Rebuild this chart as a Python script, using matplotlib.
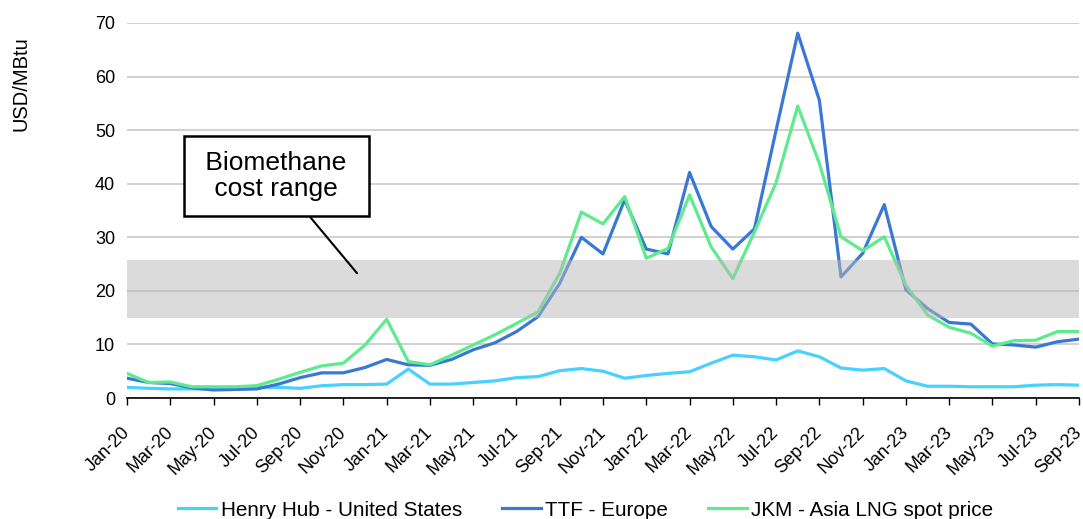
import matplotlib
matplotlib.use("Agg")
import matplotlib.pyplot as plt
import matplotlib.transforms as mtransforms
import numpy as np

plt.rcParams["font.family"] = ["Liberation Sans", "DejaVu Sans"]

months = ["Jan", "Feb", "Mar", "Apr", "May", "Jun", "Jul", "Aug", "Sep", "Oct", "Nov", "Dec"]
dates = [f"{m}-{y}" for y in ("20", "21", "22", "23") for m in months][:45]

henry_hub = [2.0, 1.8, 1.7, 1.7, 1.7, 1.7, 2.0, 2.0, 1.8, 2.3, 2.5, 2.5,
             2.6, 5.4, 2.6, 2.6, 2.9, 3.2, 3.8, 4.0, 5.1, 5.5, 5.0, 3.7,
             4.2, 4.6, 4.9, 6.5, 8.0, 7.7, 7.1, 8.8, 7.7, 5.6, 5.2, 5.5,
             3.2, 2.2, 2.2, 2.1, 2.1, 2.1, 2.4, 2.5, 2.4]
ttf = [3.7, 2.9, 2.7, 1.9, 1.5, 1.6, 1.7, 2.6, 3.8, 4.7, 4.7, 5.7,
       7.2, 6.2, 6.1, 7.2, 9.0, 10.3, 12.4, 15.2, 21.4, 30.0, 26.9, 37.0,
       27.8, 26.9, 42.1, 32.0, 27.8, 31.6, 50.0, 68.1, 55.6, 22.6, 27.0, 36.1,
       20.2, 16.7, 14.1, 13.8, 10.1, 9.9, 9.5, 10.5, 11.0]
jkm = [4.6, 2.9, 3.0, 2.1, 2.1, 2.1, 2.3, 3.5, 4.8, 6.0, 6.5, 9.9,
       14.7, 6.8, 6.2, 8.0, 9.9, 11.8, 13.9, 16.1, 23.3, 34.7, 32.5, 37.6,
       26.1, 27.9, 37.9, 28.2, 22.3, 31.0, 40.2, 54.5, 43.8, 30.1, 27.5, 30.1,
       21.1, 15.5, 13.2, 12.1, 9.7, 10.7, 10.8, 12.4, 12.4]

band_low, band_high = 15.0, 25.8

x = np.arange(len(dates))

fig = plt.figure(figsize=(10.83, 5.19), dpi=100)
ax = fig.add_axes([0.1173, 0.2331, 0.8790, 0.7226])

ax.plot(x, henry_hub, color="#48D1FF", lw=2.3, label="Henry Hub - United States", zorder=3)
ax.plot(x, ttf, color="#3A78D6", lw=2.3, label="TTF - Europe", zorder=3)
ax.plot(x, jkm, color="#5EEB8D", lw=2.3, label="JKM - Asia LNG spot price", zorder=3)
ax.axhspan(band_low, band_high, color="#b8b8b8", alpha=0.5, lw=0, zorder=4)

ax.set_xlim(0, len(dates) - 1)
ax.set_ylim(0, 70)
ax.set_yticks(range(0, 71, 10))
ax.set_xticks(x[::2])
ax.set_xticklabels(dates[::2], rotation=45, ha="right", va="center",
                   rotation_mode="anchor", fontsize=13)
shift = mtransforms.ScaledTranslation(-2 / 100, 0, fig.dpi_scale_trans)
for lbl in ax.get_xticklabels():
    lbl.set_transform(lbl.get_transform() + shift)
ax.tick_params(axis="y", length=0, labelsize=13, pad=8.5)
ax.tick_params(axis="x", direction="out", length=5, width=1, color="black", pad=18)
ax.grid(axis="y", color="#c8c8c8", lw=1.2, zorder=0)
ax.set_axisbelow(True)
for side in ("top", "right", "left"):
    ax.spines[side].set_visible(False)
ax.spines["bottom"].set_color("black")
ax.spines["bottom"].set_linewidth(1.2)

fig.text(0.019, 0.93, "USD/MBtu", rotation=90, va="top", ha="center", fontsize=14.5)

ax.annotate(" Biomethane \n cost range ", xy=(10.63, 23.3), xytext=(6.89, 41.4),
            ha="center", va="center", fontsize=19, linespacing=1.1,
            bbox=dict(boxstyle="square,pad=0.56", fc="white", ec="black", lw=1.8),
            arrowprops=dict(arrowstyle="-", color="black", lw=1.5, shrinkA=0, shrinkB=0),
            zorder=5)

fig.legend(loc="center left", bbox_to_anchor=(178 / 1083, 9 / 519), ncol=3, frameon=False,
           fontsize=14.9, handlelength=1.86, handletextpad=0.2, columnspacing=1.95,
           borderpad=0, borderaxespad=0)

fig.savefig("out.png", dpi=100)
